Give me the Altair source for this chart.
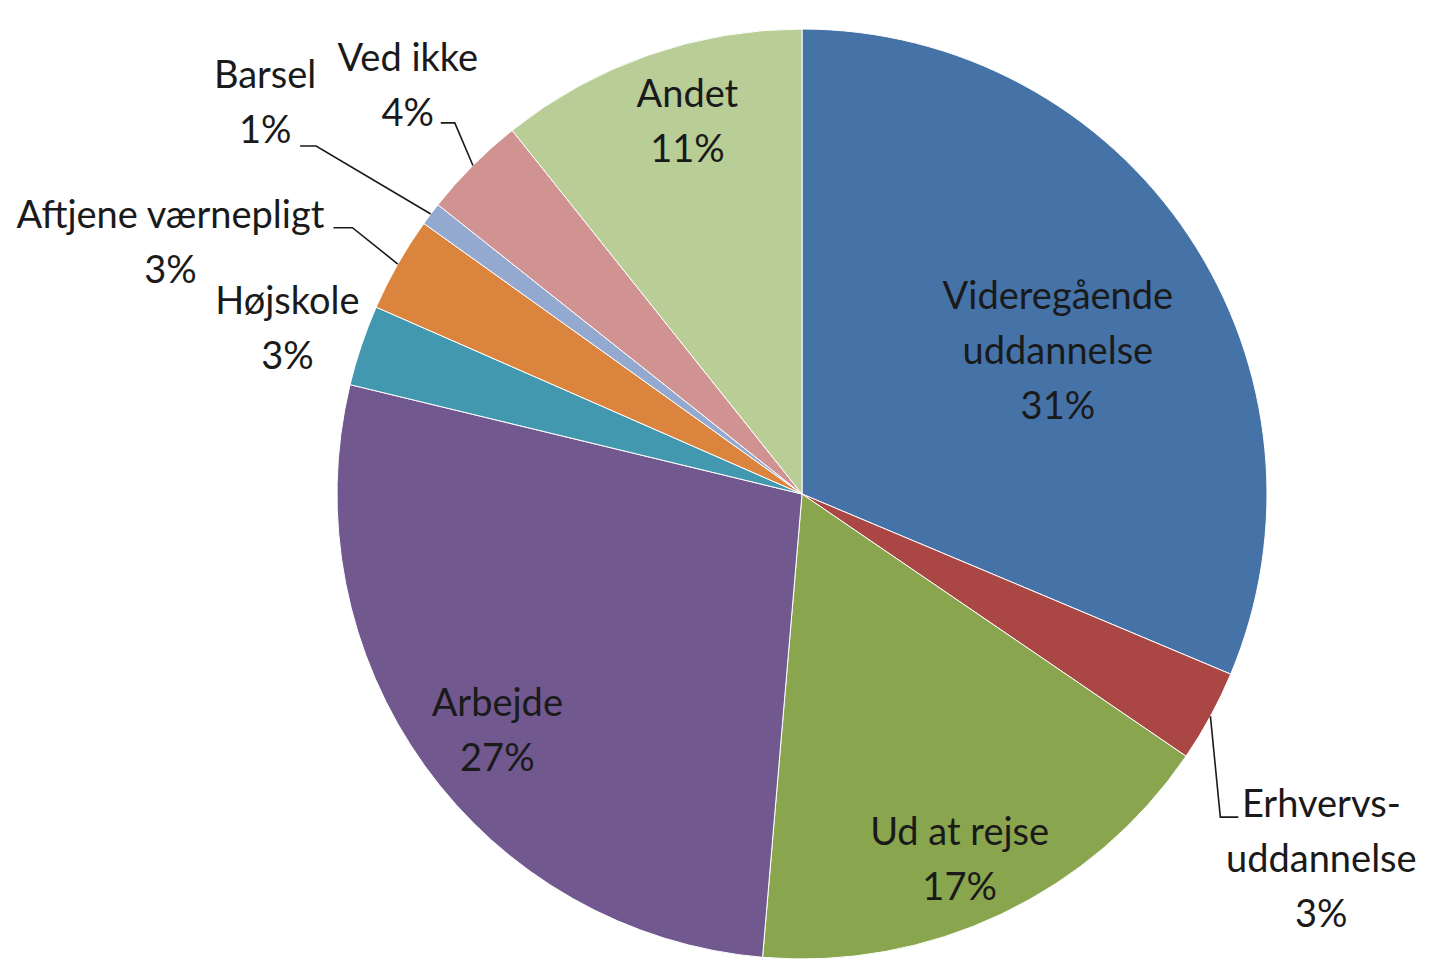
import altair as alt
import numpy as np
import pandas as pd

# ---- data ----
categories = ["Videregående uddannelse", "Erhvervsuddannelse", "Ud at rejse", "Arbejde",
              "Højskole", "Aftjene værnepligt", "Barsel", "Ved ikke", "Andet"]
label_names = ["Videregående\nuddannelse", "Erhvervs-\nuddannelse", "Ud at rejse", "Arbejde",
               "Højskole", "Aftjene  værnepligt", "Barsel", "Ved ikke", "Andet"]
values = [31.3, 3.2, 16.8, 27.4, 2.8, 3.3, 0.8, 3.6, 10.7]
colors = ["#4572A7", "#AA4643", "#89A54E", "#71588F", "#4198AF",
          "#DB843D", "#93A9CF", "#D19392", "#B9CD96"]

# ---- layout / style (not data) ----
CX, CY, R = 794, 486, 465
FONT, FSIZE, LH = "Lato", 38, 55
# label placement: (angle nudge from slice mid-angle in degrees, distance from centre in px)
label_layout = {
    "Videregående uddannelse": (4.8, 292),
    "Erhvervsuddannelse": (6.7, 636),
    "Ud at rejse": (2.2, 400),
    "Arbejde": (-2.3, 387),
    "Højskole": (-1.0, 540),
    "Aftjene værnepligt": (-8.1, 679),
    "Barsel": (-1.1, 663),
    "Ved ikke": (0.9, 566),
    "Andet": (2.1, 388),
}
# leader lines: elbow and end points, as offsets from the label centre
leaders = {
    "Erhvervsuddannelse": [(-101, -44), (-83, -44)],
    "Aftjene værnepligt": [(182, -17), (163, -17)],
    "Barsel": [(51, 41), (35, 41)],
    "Ved ikke": [(47, 35), (33, 35)],
}

vals = np.array(values, dtype=float)
frac = vals / vals.sum()
ends = np.cumsum(frac) * 360.0
starts = ends - frac * 360.0
mids = (starts + ends) / 2.0

df = pd.DataFrame({"cat": categories, "value": values, "idx": range(len(categories))})

rows = []
line_rows = []
for i, cat in enumerate(categories):
    nudge, dist = label_layout[cat]
    a = np.radians(mids[i] + nudge)
    lx = CX + dist * np.sin(a)
    ly = CY - dist * np.cos(a)
    pct = f"{round(frac[i] * 100)}%"
    txt = label_names[i] + "\n" + pct
    n_lines = txt.count("\n") + 1
    rows.append({"cat": cat, "x": lx, "y": ly - (n_lines - 1) * LH / 2.0, "text": txt})
    if cat in leaders:
        am = np.radians(mids[i])
        pts = [(CX + R * np.sin(am), CY - R * np.cos(am))]
        for ox, oy in leaders[cat]:
            pts.append((lx + ox, ly + oy))
        for k, (px, py) in enumerate(pts):
            line_rows.append({"cat": cat, "k": k, "x": px, "y": py})

labels_df = pd.DataFrame(rows)
lines_df = pd.DataFrame(line_rows)

pie = alt.Chart(df).mark_arc(radius=R, stroke="white", strokeWidth=1).encode(
    theta=alt.Theta("value:Q", stack=True),
    order=alt.Order("idx:Q"),
    color=alt.Color("cat:N", scale=alt.Scale(domain=categories, range=colors), legend=None),
    x=alt.value(CX),
    y=alt.value(CY),
)

text = alt.Chart(labels_df).mark_text(
    font=FONT, fontSize=FSIZE, lineBreak="\n", lineHeight=LH,
    align="center", baseline="middle", color="#1a1a1a"
).encode(
    x=alt.X("x:Q", scale=None, axis=None),
    y=alt.Y("y:Q", scale=None, axis=None),
    text="text:N",
)

lines = alt.Chart(lines_df).mark_line(color="#1a1a1a", strokeWidth=1.6).encode(
    x=alt.X("x:Q", scale=None, axis=None),
    y=alt.Y("y:Q", scale=None, axis=None),
    detail="cat:N",
    order="k:Q",
)

chart = alt.layer(pie, lines, text).properties(
    width=1413, height=960, padding=0,
    autosize=alt.AutoSizeParams(type="none"),
).configure_view(stroke=None)

chart.save("out.html", embed_options={"renderer": "svg", "actions": False})
